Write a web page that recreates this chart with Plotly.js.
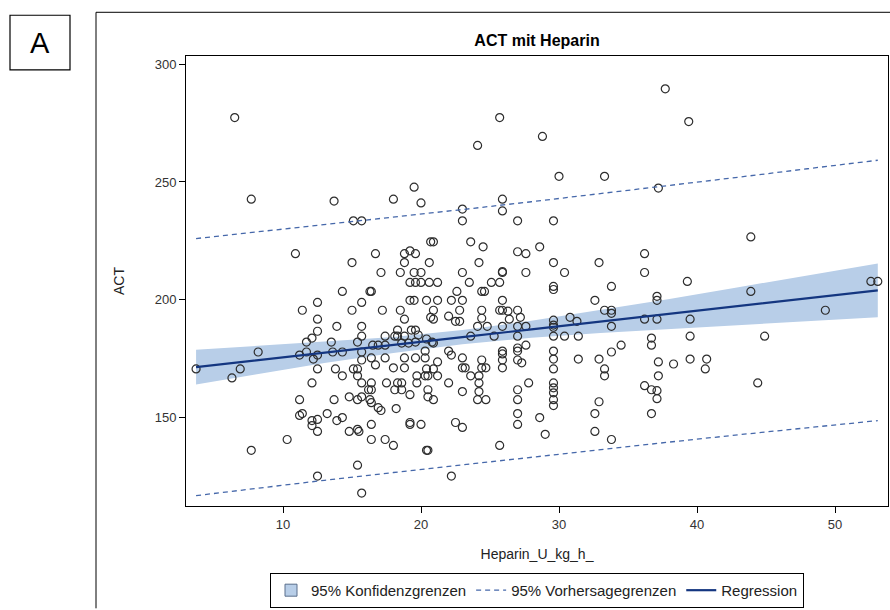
<!DOCTYPE html>
<html>
<head>
<meta charset="utf-8">
<script src="https://cdn.plot.ly/plotly-3.0.1.min.js"></script>
<style>html,body{margin:0;padding:0;background:#fff;}#chart{width:890px;height:610px;}</style>
</head>
<body>
<div id="chart"></div>
<script>
// Observations: Heparin dose (U/kg/h) and ACT
const heparin = [
6.5,25.7,37.7,39.4,24.1,28.8,30.0,33.3,19.5,37.2,7.7,18.0,20.0,25.9,13.7,23.0,25.9,15.1,15.7,23.0,27.0,29.6,43.9,
10.9,15.0,14.3,12.5,15.7,11.4,15.0,12.5,13.9,15.7,12.5,12.1,11.7,13.5,15.4,15.7,8.2,11.7,11.2,13.6,14.3,15.7,12.5,12.2,15.7,
3.7,6.9,6.3,12.5,13.8,15.1,15.4,14.3,15.4,12.1,15.7,11.2,13.7,14.8,15.4,15.7,11.4,11.2,13.2,12.1,12.5,12.1,14.3,13.9,12.5,14.8,15.4,15.5,10.3,7.7,15.4,12.5,15.7,
20.7,20.9,23.6,24.5,28.6,16.7,18.8,19.2,19.6,27.0,27.6,18.8,20.6,24.2,17.1,18.5,19.5,20.0,23.0,25.9,25.9,27.6,
19.2,19.6,20.0,20.6,21.2,23.5,25.1,25.7,16.3,16.4,22.6,24.4,24.6,19.2,19.5,20.4,21.2,22.2,23.0,25.9,
17.2,18.5,20.9,22.8,24.4,25.7,25.9,26.3,27.0,18.8,20.7,20.9,22.0,22.5,22.8,24.4,26.4,27.2,24.1,24.8,25.9,27.0,27.6,
18.3,19.3,19.6,17.4,18.1,18.3,18.8,19.8,20.4,20.8,23.6,25.3,27.0,16.5,16.9,17.4,18.6,19.1,19.6,20.9,22.0,22.2,25.9,25.9,27.0,27.0,27.6,
16.4,17.4,18.8,19.6,20.3,20.3,21.2,23.0,24.4,25.9,27.0,
16.7,18.0,18.8,20.4,20.9,23.0,23.2,24.4,24.7,25.9,27.3,16.4,17.5,18.3,18.6,19.7,19.7,20.3,20.5,21.2,22.0,23.6,24.2,24.2,27.8,
16.2,16.4,18.1,18.6,19.2,20.5,20.5,20.9,23.0,24.2,24.1,24.7,27.0,27.0,16.3,16.4,16.9,17.1,18.2,27.0,28.6,
16.4,19.2,19.2,20.0,22.5,23.0,27.0,16.4,17.4,18.0,20.4,20.5,25.7,29.0,22.2,
29.6,30.4,32.9,36.2,36.2,39.3,29.6,29.6,33.8,32.6,37.1,37.1,33.3,33.8,33.8,30.8,29.6,29.6,29.6,31.3,33.8,36.2,37.1,39.5,
29.6,30.4,31.4,39.5,36.7,36.7,34.5,33.8,29.6,29.6,31.4,32.9,39.5,40.7,37.2,38.3,
29.6,33.3,33.3,37.2,40.6,29.6,29.6,29.6,29.6,29.6,36.2,36.7,37.1,37.1,32.9,32.6,36.7,32.6,33.8,
43.9,52.6,53.1,49.3,44.9,44.4
];
const act = [
277.3,277.3,289.5,275.6,265.5,269.3,252.4,252.4,247.8,247.4,242.7,242.7,241.1,242.7,241.9,238.5,237.7,233.5,233.5,233.5,233.5,233.5,226.7,
219.6,215.8,203.6,198.9,198.9,195.6,195.6,191.8,188.8,188.8,186.7,183.8,182.1,182.1,182.1,184.6,177.9,177.9,176.6,177.9,177.9,177.9,176.6,174.9,174.5,
170.7,170.7,166.9,170.7,170.7,170.7,170.7,167.8,167.8,164.8,164.8,157.7,157.7,158.9,157.7,158.9,151.8,151.0,151.8,148.8,149.3,146.7,150.1,148.8,144.2,144.2,145.1,144.2,140.8,136.2,129.9,125.3,118.1,
224.6,224.6,224.6,222.5,222.5,219.6,219.6,220.8,219.6,220.4,219.6,215.8,215.8,215.8,211.6,211.6,211.6,211.6,211.6,211.6,212.0,211.6,
207.4,207.4,207.4,207.4,207.4,207.4,207.4,207.4,203.6,203.6,203.6,203.6,203.6,199.8,199.8,199.8,199.8,199.8,199.8,199.8,
195.6,195.6,195.6,195.6,195.6,195.6,195.6,195.2,195.6,191.8,192.6,191.8,193.1,190.9,190.9,192.2,191.8,192.6,188.8,188.8,188.8,188.8,188.8,
187.2,187.2,187.2,184.6,184.6,184.6,184.6,185.1,183.4,182.1,184.6,184.6,184.6,180.8,180.8,180.8,181.7,181.7,182.1,181.7,178.3,176.6,178.3,177.1,179.6,178.3,180.8,
175.4,175.4,175.4,175.4,175.4,178.3,173.7,175.4,174.5,174.5,174.5,
172.4,171.2,171.2,170.7,170.7,171.2,171.2,171.2,171.2,171.2,173.3,164.8,164.8,164.8,164.8,167.8,164.8,167.8,167.8,167.8,164.8,167.8,167.8,164.8,164.8,
161.9,161.9,161.9,161.9,159.8,161.9,158.9,157.7,161.1,161.1,157.7,157.7,161.9,157.7,157.7,156.4,154.3,153.1,153.9,151.8,150.1,
147.2,148.0,147.2,147.2,148.0,145.9,147.2,140.8,140.8,138.3,136.2,136.2,138.3,143.0,125.3,
215.8,211.6,215.8,219.6,211.6,207.8,205.7,204.4,205.7,199.8,201.5,199.8,195.6,195.6,194.3,192.6,191.4,189.3,188.4,190.9,188.8,191.8,191.8,191.8,
184.6,184.6,184.6,184.6,183.8,180.8,180.8,177.9,178.3,174.9,174.9,174.9,174.9,174.9,173.7,172.8,
170.7,170.7,167.8,167.8,170.7,164.8,162.7,160.6,157.7,155.2,163.6,161.9,161.5,158.1,156.8,151.8,151.8,144.2,140.8,
203.6,207.8,207.8,195.6,184.6,164.8
];

// Fit, confidence and prediction limits
const fitX     = [3.7, 8, 13, 18, 23, 28, 33, 38, 43, 48, 53.1];
const fitY     = [171.5, 174.4, 177.7, 180.9, 184.2, 187.5, 190.8, 194.1, 197.4, 200.7, 204.0];
const clUpper  = [178.9, 180.4, 182.3, 184.3, 187.2, 191.1, 195.6, 200.4, 205.4, 210.4, 215.4];
const clLower  = [164.1, 168.4, 173.2, 177.5, 181.2, 183.9, 186.0, 187.8, 189.4, 191.0, 192.6];
const plUpper  = [226.0, 228.7, 231.9, 235.0, 238.3, 241.6, 245.0, 248.5, 252.0, 255.6, 259.2];
const plLower  = [117.0, 120.1, 123.5, 126.8, 130.1, 133.4, 136.6, 139.7, 142.8, 145.8, 148.8];

const xTicks = [10, 20, 30, 40, 50];
const yTicks = [150, 200, 250, 300];

const bandX = fitX.concat(fitX.slice().reverse());
const bandY = clUpper.concat(clLower.slice().reverse());

const FONT = 'Arial, "Liberation Sans", sans-serif';
const dashColor = 'rgb(70,104,170)';
const bandColor = 'rgb(184,206,232)';

const traces = [
  {x: bandX, y: bandY, type: 'scatter', mode: 'lines', fill: 'toself',
   fillcolor: bandColor, line: {width: 0, color: bandColor},
   name: '95% Konfidenzgrenzen', showlegend: false, legendgroup: 'cl', hoverinfo: 'skip'},
  {x: heparin, y: act, type: 'scatter', mode: 'markers', showlegend: false,
   marker: {symbol: 'circle-open', size: 8, color: 'rgb(45,45,45)', line: {width: 1.2, color: 'rgb(45,45,45)'}}},
  // legend key for the confidence band (square swatch, no data drawn)
  {x: [null], y: [null], type: 'scatter', mode: 'markers', name: '95% Konfidenzgrenzen', legendgroup: 'cl',
   marker: {symbol: 'square', size: 12, color: bandColor, line: {width: 1, color: 'rgb(90,110,140)'}}},
  {x: fitX, y: plUpper, type: 'scatter', mode: 'lines', name: '95% Vorhersagegrenzen', legendgroup: 'pl',
   line: {color: dashColor, width: 1.3, dash: '5px,4px'}},
  {x: fitX, y: plLower, type: 'scatter', mode: 'lines', showlegend: false, legendgroup: 'pl',
   line: {color: dashColor, width: 1.3, dash: '5px,4px'}},
  {x: fitX, y: fitY, type: 'scatter', mode: 'lines', name: 'Regression',
   line: {color: 'rgb(20,54,128)', width: 2.2}}
];

const L = 186, R = 888, T = 56, B = 509;
const px2x = p => (p - L) / (R - L);
const py2y = p => (B - p) / (B - T);

const layout = {
  width: 890, height: 610,
  margin: {l: L, r: 890 - R, t: T, b: 610 - B},
  paper_bgcolor: '#fff', plot_bgcolor: '#fff',
  font: {family: FONT, size: 13, color: '#222'},
  title: {text: '<b>ACT mit Heparin</b>', font: {family: FONT, size: 16, color: '#000'},
          x: 0.5, xref: 'paper', y: 1 - 40 / 610, yanchor: 'middle'},
  xaxis: {range: [2.97, 53.84], tickvals: xTicks, ticks: 'outside', ticklen: 6, tickcolor: '#000',
          showgrid: false, zeroline: false, showline: true, linecolor: '#000', linewidth: 1, mirror: true,
          tickfont: {size: 13, color: '#333'},
          title: {text: 'Heparin_U_kg_h_', font: {size: 14, color: '#222'}, standoff: 18}},
  yaxis: {range: [112.6, 303.4], tickvals: yTicks, ticks: 'outside', ticklen: 6, tickcolor: '#000',
          showgrid: false, zeroline: false, showline: true, linecolor: '#000', linewidth: 1, mirror: true,
          tickfont: {size: 13, color: '#333'},
          title: {text: 'ACT', font: {size: 14, color: '#222'}, standoff: 26}},
  showlegend: true,
  legend: {orientation: 'h', x: 0.5, xanchor: 'center', y: py2y(594), yanchor: 'middle',
           bordercolor: '#000', borderwidth: 1, bgcolor: '#fff',
           font: {size: 15, color: '#222'}, traceorder: 'normal'},
  shapes: [
    {type: 'rect', xref: 'paper', yref: 'paper', x0: px2x(10), x1: px2x(70), y0: py2y(15), y1: py2y(70),
     line: {color: '#000', width: 1.2}},
    {type: 'line', xref: 'paper', yref: 'paper', x0: px2x(96), x1: px2x(96), y0: py2y(12), y1: py2y(612),
     line: {color: '#000', width: 1}},
    {type: 'line', xref: 'paper', yref: 'paper', x0: px2x(96), x1: px2x(892), y0: py2y(12), y1: py2y(12),
     line: {color: '#000', width: 1}}
  ],
  annotations: [
    {text: 'A', xref: 'paper', yref: 'paper', x: px2x(40), y: py2y(43), xanchor: 'center', yanchor: 'middle',
     showarrow: false, font: {family: FONT, size: 29, color: '#000'}}
  ]
};

Plotly.newPlot('chart', traces, layout, {displayModeBar: false, staticPlot: true});
</script>
</body>
</html>
